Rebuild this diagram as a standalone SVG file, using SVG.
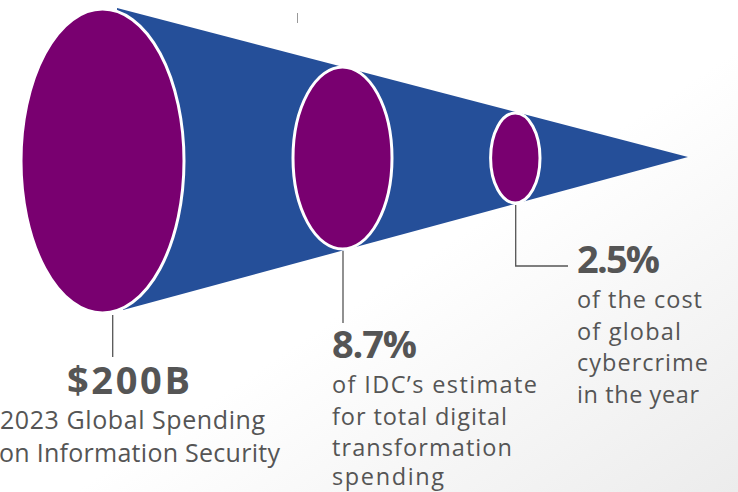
<svg xmlns="http://www.w3.org/2000/svg" width="738" height="492" viewBox="0 0 738 492">
<defs>
<linearGradient id="bg" x1="0" y1="0" x2="1" y2="1">
<stop offset="0.55" stop-color="#ffffff"/>
<stop offset="1" stop-color="#ececec"/>
</linearGradient>
<style>
.disc{fill:#790070;stroke:#ffffff;stroke-width:3}
.lead{stroke:#555555;stroke-width:1.3;fill:none}
.big{font-family:"Open Sans","Liberation Sans",sans-serif;font-weight:700;font-size:38px;fill:#555555}
.sub{font-family:"Open Sans","Liberation Sans",sans-serif;font-size:23.5px;fill:#555555}
.subl{font-family:"Open Sans","Liberation Sans",sans-serif;font-size:25px;fill:#555555}
</style>
</defs>
<rect width="738" height="492" fill="url(#bg)"/>
<line x1="297.5" y1="13" x2="297.5" y2="23" stroke="#999999" stroke-width="1"/>
<g id="cone">
<polygon points="117,8 688,157 123,310" fill="#254F99"/>
</g>
<g id="node-200b">
<ellipse class="disc" cx="102.5" cy="161" rx="81.5" ry="152"/>
<text class="big" x="67" y="394" textLength="123">$200B</text>
<text class="subl" x="0" y="429" textLength="265">2023 Global Spending</text>
<text class="subl" x="-1" y="462" textLength="281">on Information Security</text>
</g>
<g id="node-8-7">
<ellipse class="disc" cx="342.5" cy="158" rx="49.5" ry="91"/>
<text class="big" x="332" y="358" textLength="85">8.7%</text>
<text class="sub" x="332" y="393" textLength="205">of IDC’s estimate</text>
<text class="sub" x="332" y="424.5" textLength="175">for total digital</text>
<text class="sub" x="332" y="456" textLength="180">transformation</text>
<text class="sub" x="332" y="485" textLength="112">spending</text>
</g>
<g id="node-2-5">
<ellipse class="disc" cx="515.3" cy="158" rx="24.7" ry="45"/>
<text class="big" x="577" y="273" textLength="83">2.5%</text>
<text class="sub" x="577" y="308" textLength="125">of the cost</text>
<text class="sub" x="577" y="340" textLength="104">of global</text>
<text class="sub" x="577" y="371" textLength="131">cybercrime</text>
<text class="sub" x="577" y="403" textLength="122">in the year</text>
</g>
<g id="connectors">
<line class="lead" x1="112.7" y1="315" x2="112.7" y2="357"/>
<line class="lead" x1="343" y1="251" x2="343" y2="323"/>
<polyline class="lead" points="515.7,205 515.7,266 568,266"/>
</g>
</svg>
